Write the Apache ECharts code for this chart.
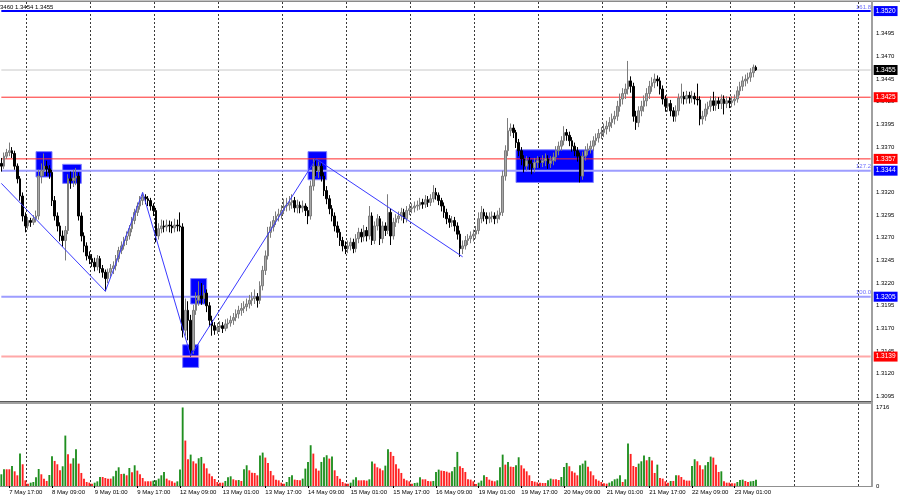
<!DOCTYPE html>
<html><head><meta charset="utf-8">
<script src="https://cdn.jsdelivr.net/npm/echarts@6/dist/echarts.min.js"></script>
<style>html,body{margin:0;padding:0;background:#fff}#c{width:900px;height:500px}</style>
</head><body><div id="c"></div>
<script>
// ---- Trading days and hourly bars (H1) ----
const tradingDays = ['7 May','8 May','9 May','12 May','13 May','14 May','15 May','16 May','19 May','20 May','21 May','22 May','23 May','26 May','27 May'];
const firstHour = 14;

const opens = [
1.3352,1.3349,1.3360,1.3364,1.3366,1.3363,1.3349,1.3335,1.3316,1.3294,
1.3283,1.3289,1.3287,1.3291,1.3294,1.3338,1.3344,1.3349,1.3346,1.3342,
1.3311,1.3294,1.3283,1.3272,1.3267,1.3278,1.3335,1.3333,1.3336,1.3338,
1.3294,1.3272,1.3261,1.3250,1.3247,1.3243,1.3238,1.3247,1.3236,1.3232,
1.3225,1.3232,1.3236,1.3239,1.3247,1.3256,1.3261,1.3267,1.3272,1.3280,
1.3289,1.3298,1.3305,1.3311,1.3315,1.3313,1.3311,1.3305,1.3300,1.3272,
1.3280,1.3283,1.3282,1.3284,1.3283,1.3281,1.3284,1.3283,1.3282,1.3168,
1.3190,1.3179,1.3146,1.3190,1.3201,1.3206,1.3203,1.3209,1.3195,1.3179,
1.3173,1.3168,1.3171,1.3173,1.3170,1.3175,1.3176,1.3179,1.3182,1.3186,
1.3190,1.3192,1.3194,1.3197,1.3201,1.3203,1.3205,1.3201,1.3217,1.3234,
1.3250,1.3276,1.3282,1.3289,1.3294,1.3296,1.3300,1.3305,1.3306,1.3309,
1.3311,1.3303,1.3306,1.3303,1.3305,1.3300,1.3294,1.3327,1.3349,1.3344,
1.3349,1.3338,1.3322,1.3313,1.3302,1.3294,1.3283,1.3276,1.3267,1.3261,
1.3258,1.3261,1.3265,1.3258,1.3269,1.3276,1.3271,1.3278,1.3272,1.3294,
1.3267,1.3283,1.3291,1.3269,1.3283,1.3278,1.3298,1.3272,1.3287,1.3291,
1.3294,1.3298,1.3291,1.3300,1.3302,1.3303,1.3305,1.3306,1.3309,1.3307,
1.3312,1.3309,1.3313,1.3320,1.3317,1.3311,1.3305,1.3298,1.3291,1.3287,
1.3289,1.3283,1.3274,1.3258,1.3261,1.3267,1.3269,1.3272,1.3274,1.3278,
1.3291,1.3298,1.3294,1.3291,1.3293,1.3294,1.3291,1.3295,1.3298,1.3338,
1.3366,1.3388,1.3391,1.3386,1.3375,1.3366,1.3357,1.3349,1.3355,1.3352,
1.3347,1.3353,1.3355,1.3353,1.3355,1.3357,1.3352,1.3355,1.3359,1.3366,
1.3371,1.3377,1.3386,1.3383,1.3377,1.3371,1.3366,1.3360,1.3338,1.3360,
1.3366,1.3368,1.3371,1.3377,1.3380,1.3385,1.3386,1.3390,1.3393,1.3397,
1.3401,1.3404,1.3415,1.3423,1.3429,1.3434,1.3443,1.3437,1.3404,1.3397,
1.3410,1.3415,1.3421,1.3429,1.3437,1.3441,1.3445,1.3443,1.3434,1.3423,
1.3415,1.3418,1.3410,1.3404,1.3410,1.3424,1.3426,1.3423,1.3427,1.3424,
1.3426,1.3423,1.3422,1.3401,1.3404,1.3412,1.3415,1.3421,1.3416,1.3421,
1.3418,1.3423,1.3418,1.3421,1.3419,1.3421,1.3423,1.3432,1.3437,1.3443,
1.3445,1.3447,1.3452,1.3458];

const closes = [
1.3349,1.3360,1.3364,1.3366,1.3363,1.3349,1.3335,1.3316,1.3294,1.3283,
1.3289,1.3287,1.3291,1.3294,1.3338,1.3344,1.3349,1.3346,1.3342,1.3311,
1.3294,1.3283,1.3272,1.3267,1.3278,1.3335,1.3333,1.3336,1.3338,1.3294,
1.3272,1.3261,1.3250,1.3247,1.3243,1.3238,1.3247,1.3236,1.3232,1.3225,
1.3232,1.3236,1.3239,1.3247,1.3256,1.3261,1.3267,1.3272,1.3280,1.3289,
1.3298,1.3305,1.3311,1.3315,1.3313,1.3311,1.3305,1.3300,1.3272,1.3280,
1.3283,1.3282,1.3284,1.3283,1.3281,1.3284,1.3283,1.3282,1.3168,1.3190,
1.3179,1.3146,1.3190,1.3201,1.3206,1.3203,1.3209,1.3195,1.3179,1.3173,
1.3168,1.3171,1.3173,1.3170,1.3175,1.3176,1.3179,1.3182,1.3186,1.3190,
1.3192,1.3194,1.3197,1.3201,1.3203,1.3205,1.3201,1.3217,1.3234,1.3250,
1.3276,1.3282,1.3289,1.3294,1.3296,1.3300,1.3305,1.3306,1.3309,1.3311,
1.3303,1.3306,1.3303,1.3305,1.3300,1.3294,1.3327,1.3349,1.3344,1.3349,
1.3338,1.3322,1.3313,1.3302,1.3294,1.3283,1.3276,1.3267,1.3261,1.3258,
1.3261,1.3265,1.3258,1.3269,1.3276,1.3271,1.3278,1.3272,1.3294,1.3267,
1.3283,1.3291,1.3269,1.3283,1.3278,1.3298,1.3272,1.3287,1.3291,1.3294,
1.3298,1.3291,1.3300,1.3302,1.3303,1.3305,1.3306,1.3309,1.3307,1.3312,
1.3309,1.3313,1.3320,1.3317,1.3311,1.3305,1.3298,1.3291,1.3287,1.3289,
1.3283,1.3274,1.3258,1.3261,1.3267,1.3269,1.3272,1.3274,1.3278,1.3291,
1.3298,1.3294,1.3291,1.3293,1.3294,1.3291,1.3295,1.3298,1.3338,1.3366,
1.3388,1.3391,1.3386,1.3375,1.3366,1.3357,1.3349,1.3355,1.3352,1.3347,
1.3353,1.3355,1.3353,1.3355,1.3357,1.3352,1.3355,1.3359,1.3366,1.3371,
1.3377,1.3386,1.3383,1.3377,1.3371,1.3366,1.3360,1.3338,1.3360,1.3366,
1.3368,1.3371,1.3377,1.3380,1.3385,1.3386,1.3390,1.3393,1.3397,1.3401,
1.3404,1.3415,1.3423,1.3429,1.3434,1.3443,1.3437,1.3404,1.3397,1.3410,
1.3415,1.3421,1.3429,1.3437,1.3441,1.3445,1.3443,1.3434,1.3423,1.3415,
1.3418,1.3410,1.3404,1.3410,1.3424,1.3426,1.3423,1.3427,1.3424,1.3426,
1.3423,1.3422,1.3401,1.3404,1.3412,1.3415,1.3421,1.3416,1.3421,1.3418,
1.3423,1.3418,1.3421,1.3419,1.3421,1.3423,1.3432,1.3437,1.3443,1.3445,
1.3447,1.3452,1.3458,1.3455];

const highs = [
1.3358,1.3364,1.3368,1.3375,1.3370,1.3366,1.3352,1.3338,1.3320,1.3298,
1.3293,1.3292,1.3295,1.3300,1.3345,1.3352,1.3363,1.3355,1.3350,1.3345,
1.3316,1.3298,1.3287,1.3278,1.3283,1.3340,1.3343,1.3345,1.3347,1.3342,
1.3298,1.3276,1.3265,1.3255,1.3252,1.3248,1.3251,1.3250,1.3240,1.3235,
1.3236,1.3241,1.3244,1.3251,1.3260,1.3266,1.3271,1.3277,1.3284,1.3293,
1.3302,1.3309,1.3316,1.3320,1.3318,1.3316,1.3314,1.3308,1.3303,1.3286,
1.3290,1.3289,1.3290,1.3289,1.3288,1.3291,1.3290,1.3298,1.3286,1.3203,
1.3200,1.3185,1.3196,1.3210,1.3222,1.3220,1.3218,1.3213,1.3199,1.3184,
1.3177,1.3176,1.3178,1.3177,1.3180,1.3181,1.3184,1.3187,1.3191,1.3195,
1.3198,1.3200,1.3203,1.3207,1.3210,1.3213,1.3209,1.3222,1.3239,1.3256,
1.3282,1.3288,1.3294,1.3299,1.3302,1.3306,1.3313,1.3314,1.3316,1.3318,
1.3315,1.3312,1.3310,1.3311,1.3308,1.3304,1.3333,1.3357,1.3357,1.3354,
1.3352,1.3342,1.3327,1.3317,1.3306,1.3298,1.3288,1.3280,1.3271,1.3266,
1.3267,1.3270,1.3269,1.3274,1.3281,1.3280,1.3284,1.3282,1.3305,1.3298,
1.3288,1.3296,1.3294,1.3288,1.3287,1.3318,1.3302,1.3292,1.3296,1.3299,
1.3303,1.3302,1.3305,1.3307,1.3308,1.3310,1.3311,1.3314,1.3313,1.3317,
1.3316,1.3318,1.3328,1.3325,1.3320,1.3314,1.3309,1.3302,1.3295,1.3294,
1.3293,1.3287,1.3278,1.3267,1.3272,1.3274,1.3277,1.3279,1.3283,1.3298,
1.3305,1.3302,1.3298,1.3298,1.3299,1.3298,1.3300,1.3303,1.3344,1.3372,
1.3402,1.3396,1.3395,1.3389,1.3379,1.3370,1.3361,1.3360,1.3359,1.3356,
1.3358,1.3360,1.3359,1.3361,1.3363,1.3361,1.3360,1.3364,1.3371,1.3376,
1.3382,1.3393,1.3390,1.3387,1.3381,1.3375,1.3370,1.3364,1.3365,1.3371,
1.3374,1.3377,1.3382,1.3385,1.3390,1.3392,1.3396,1.3399,1.3403,1.3407,
1.3410,1.3421,1.3429,1.3435,1.3440,1.3465,1.3448,1.3441,1.3410,1.3415,
1.3421,1.3427,1.3435,1.3443,1.3447,1.3451,1.3449,1.3447,1.3438,1.3427,
1.3424,1.3422,1.3414,1.3416,1.3429,1.3440,1.3431,1.3432,1.3431,1.3432,
1.3430,1.3440,1.3426,1.3410,1.3418,1.3420,1.3426,1.3431,1.3426,1.3425,
1.3428,1.3427,1.3426,1.3425,1.3426,1.3428,1.3437,1.3442,1.3448,1.3450,
1.3452,1.3457,1.3461,1.3460];

const lows = [
1.3343,1.3346,1.3357,1.3360,1.3358,1.3345,1.3330,1.3311,1.3288,1.3276,
1.3279,1.3282,1.3284,1.3287,1.3290,1.3330,1.3338,1.3338,1.3335,1.3305,
1.3289,1.3277,1.3266,1.3260,1.3245,1.3274,1.3324,1.3326,1.3328,1.3289,
1.3266,1.3254,1.3245,1.3241,1.3238,1.3233,1.3234,1.3231,1.3226,1.3211,
1.3220,1.3227,1.3230,1.3234,1.3243,1.3252,1.3257,1.3262,1.3268,1.3276,
1.3285,1.3294,1.3301,1.3306,1.3307,1.3305,1.3300,1.3294,1.3265,1.3268,
1.3275,1.3276,1.3277,1.3276,1.3275,1.3276,1.3277,1.3277,1.3160,1.3162,
1.3157,1.3139,1.3142,1.3185,1.3195,1.3196,1.3198,1.3188,1.3172,1.3162,
1.3163,1.3164,1.3166,1.3165,1.3167,1.3170,1.3172,1.3174,1.3178,1.3181,
1.3184,1.3187,1.3189,1.3192,1.3195,1.3197,1.3193,1.3197,1.3212,1.3229,
1.3246,1.3270,1.3277,1.3284,1.3288,1.3291,1.3296,1.3299,1.3300,1.3302,
1.3298,1.3297,1.3297,1.3298,1.3294,1.3285,1.3290,1.3322,1.3338,1.3336,
1.3332,1.3316,1.3307,1.3296,1.3288,1.3277,1.3270,1.3261,1.3255,1.3252,
1.3253,1.3256,1.3253,1.3254,1.3264,1.3265,1.3266,1.3266,1.3268,1.3262,
1.3263,1.3278,1.3262,1.3264,1.3272,1.3274,1.3262,1.3268,1.3282,1.3286,
1.3289,1.3286,1.3287,1.3295,1.3297,1.3298,1.3300,1.3301,1.3302,1.3303,
1.3304,1.3305,1.3309,1.3312,1.3306,1.3299,1.3292,1.3285,1.3281,1.3282,
1.3277,1.3268,1.3249,1.3252,1.3257,1.3262,1.3264,1.3266,1.3269,1.3274,
1.3286,1.3288,1.3285,1.3286,1.3287,1.3285,1.3286,1.3290,1.3294,1.3333,
1.3360,1.3382,1.3380,1.3369,1.3360,1.3350,1.3342,1.3344,1.3345,1.3340,
1.3342,1.3347,1.3347,1.3348,1.3349,1.3346,1.3347,1.3350,1.3354,1.3361,
1.3366,1.3372,1.3377,1.3371,1.3365,1.3360,1.3354,1.3331,1.3334,1.3355,
1.3361,1.3363,1.3366,1.3372,1.3375,1.3379,1.3381,1.3384,1.3387,1.3391,
1.3395,1.3399,1.3409,1.3417,1.3423,1.3428,1.3430,1.3398,1.3389,1.3392,
1.3404,1.3409,1.3415,1.3423,1.3431,1.3435,1.3437,1.3428,1.3417,1.3409,
1.3409,1.3404,1.3398,1.3398,1.3405,1.3418,1.3417,1.3418,1.3418,1.3419,
1.3417,1.3416,1.3394,1.3395,1.3399,1.3406,1.3409,1.3410,1.3410,1.3412,
1.3412,1.3406,1.3413,1.3413,1.3414,1.3416,1.3419,1.3427,1.3432,1.3437,
1.3440,1.3442,1.3447,1.3454];

const volumes = [
256,365,365,365,438,321,234,708,475,124,
51,73,88,190,372,256,161,110,241,650,
548,475,343,431,1102,694,489,606,803,489,
285,161,88,73,51,73,102,197,197,175,
161,161,212,336,409,263,270,234,394,299,
453,336,256,175,102,102,102,117,124,161,
234,307,161,124,102,73,102,358,1716,993,
584,686,540,489,606,635,489,387,270,212,
153,88,73,73,110,190,212,146,124,131,
110,365,453,343,292,285,234,664,730,621,
504,329,234,139,124,73,51,88,197,234,
139,131,124,161,380,526,891,708,380,336,
526,628,672,599,642,343,219,161,88,58,
51,73,139,190,124,124,124,117,146,533,
489,409,380,343,445,803,745,657,475,380,
285,161,124,102,51,66,73,190,146,146,
110,102,110,307,358,336,329,314,292,321,
416,745,431,394,307,146,139,102,44,73,
117,234,197,139,117,102,124,409,686,467,
526,423,416,453,628,453,380,321,234,110,
95,80,73,66,66,124,161,146,146,131,
197,416,504,431,321,292,234,453,489,555,
423,321,234,146,117,88,58,51,73,102,
146,161,234,88,146,927,701,438,416,489,
540,664,562,635,555,285,467,175,161,102,
73,110,110,234,234,197,139,117,117,438,
584,540,453,365,453,526,642,621,467,307,
321,102,73,73,58,58,88,131,139,110,
88,102,110,139];

// price axis ticks / levels
const priceTickStart = 1.3095;
const volumeTickMax = 1716;
const levelPrices = [1.3520, 1.3455, 1.3425, 1.3357, 1.3344, 1.3205, 1.3139];
const levelColors = ['#0000ff','#c8c8c8','#ff2a2a','#ff2a2a','#9d9dff','#9d9dff','#ffa8a8'];
const levelWidths = [2, 1, 1, 1, 2, 2, 2];
const levelTagColors = ['#0000ff','#000000','#ff0000','#ff0000','#0000ff','#0000ff','#ff0000'];
const fibPrices   = [1.3520, 1.3344, 1.3205];
const fibTexts    = ['161.8', '127.2', '100.0'];
// zig-zag vertices (bar index, price)
const zigIdx   = [0, 39, 53, 71, 118, 173];
const zigPrice = [1.3330, 1.3211, 1.3320, 1.3140, 1.3357, 1.3249];
// blue zones (bar index range, price range)
const zoneFrom = [13, 23, 71, 68, 115, 193];
const zoneTo   = [19, 30, 77, 74, 122, 222];
const zoneHigh = [1.3365, 1.3351, 1.3225, 1.3152, 1.3365, 1.3367];
const zoneLow  = [1.3337, 1.3330, 1.3197, 1.3127, 1.3334, 1.3331];
const headerText = '1.3460 1.3454 1.3455';

// ---- build categories ----
const SLOTS = 327;
const cats = [];
(function(){
  let d = 0, h = firstHour;
  while (cats.length < SLOTS) {
    cats.push(tradingDays[d] + ' ' + String(h).padStart(2,'0') + ':00');
    h++; if (h > 23) { h = 0; d++; }
  }
})();
const nBars = closes.length;
const candleData = closes.map((c,i)=>[opens[i], c, lows[i], highs[i]]);
const FONT = 'Liberation Sans';

function helper(extra){
  return Object.assign({type:'line', xAxisIndex:0, yAxisIndex:0, data:[], z:1, clip:false, silent:true}, extra);
}
const series = [];
// zones
series.push(helper({markArea:{silent:true, itemStyle:{color:'#0000ff', borderColor:'#8080ff', borderWidth:1},
  data: zoneFrom.map((f,k)=>[{coord:[cats[f], zoneHigh[k]]},{coord:[cats[zoneTo[k]], zoneLow[k]]}])}}));
// zigzag
const zigLines = [];
for (let k=0;k<zigIdx.length-1;k++){
  zigLines.push([{coord:[cats[zigIdx[k]], zigPrice[k]]},{coord:[cats[zigIdx[k+1]], zigPrice[k+1]]}]);
}
series.push(helper({markLine:{silent:true, precision:5, symbol:['none','none'], animation:false,
  lineStyle:{color:'#3a3aff', width:1, type:'solid'}, label:{show:false}, data:zigLines}}));
// horizontal levels: line series across the whole axis with a price tag at the end
levelPrices.forEach((p,k)=>{
  series.push({type:'line', xAxisIndex:0, yAxisIndex:0, z:2, silent:true, clip:false,
    showSymbol:false, symbol:'none',
    data:[[cats[0], p], [cats[SLOTS-1], p]],
    lineStyle:{color:levelColors[k], width:levelWidths[k], type:'solid'},
    itemStyle:{color:levelColors[k]},
    endLabel:{show:true, distance:3, formatter:p.toFixed(4), color:'#fff',
      backgroundColor:levelTagColors[k], padding:[2,2,1,2], fontSize:6.5, fontFamily:FONT}});
});
// fibonacci level texts
fibPrices.forEach((p,k)=>{
  series.push(helper({z:2, markLine:{silent:true, precision:5, symbol:['none','none'], animation:false,
    lineStyle:{color:'rgba(0,0,0,0)', width:1, type:'solid'},
    label:{show:true, position:'insideEndTop', distance:1, formatter:fibTexts[k], color:'#6f6fff', fontSize:6, fontFamily:FONT},
    data:[{yAxis:p}]}}));
});
series.push({type:'candlestick', xAxisIndex:0, yAxisIndex:0, data:candleData, z:3, barWidth:2,
  itemStyle:{color:'#a8a8a8', color0:'#000000', borderColor:'#7c7c7c', borderColor0:'#000000', borderWidth:1}});
series.push({type:'bar', xAxisIndex:1, yAxisIndex:1, data:volumes, barWidth:'70%',
  itemStyle:{color:(p)=> (p.dataIndex===0 || volumes[p.dataIndex] > volumes[p.dataIndex-1]) ? '#1f8f1f' : '#ff2020'}});

const splitIv = (idx)=> idx % 24 === 10;
const labelIv = (idx)=> idx % 16 === 3 && idx < nBars;
const gridDash = {color:'#3a3a3a', type:[2,2], width:1};

const chart = echarts.init(document.getElementById('c'), null, {renderer:'canvas'});
chart.setOption({
  animation:false,
  backgroundColor:'#ffffff',
  grid:[{left:0, top:2, width:872, height:399},{left:0, top:404, width:872, height:82}],
  xAxis:[
    {type:'category', gridIndex:0, data:cats, boundaryGap:true,
     axisLine:{show:false}, axisTick:{show:false}, axisLabel:{show:false},
     splitLine:{show:true, interval:splitIv, lineStyle:gridDash}},
    {type:'category', gridIndex:1, data:cats, boundaryGap:true,
     axisLine:{show:true, lineStyle:{color:'#909090', width:1}},
     axisTick:{show:true, alignWithLabel:true, interval:labelIv, length:2, lineStyle:{color:'#000'}},
     axisLabel:{show:true, interval:labelIv, align:'left', margin:3, fontSize:6, color:'#000', fontFamily:FONT},
     splitLine:{show:true, interval:splitIv, lineStyle:gridDash}}
  ],
  yAxis:[
    {type:'value', gridIndex:0, position:'right', min:1.3090, max:1.3530, interval:0.0005, scale:true,
     axisLine:{show:true, lineStyle:{color:'#a0a0a0', width:2}}, axisTick:{show:false}, splitLine:{show:false},
     axisLabel:{show:true, margin:4, fontSize:6, color:'#000', fontFamily:FONT, showMinLabel:false, showMaxLabel:false,
       formatter:(v)=>{ const k = Math.round((v-priceTickStart)/0.0005); return (k>=0 && k%5===0 && Math.abs(v-priceTickStart-k*0.0005)<1e-7) ? v.toFixed(4) : ''; }}},
    {type:'value', gridIndex:1, position:'right', min:0, max:1792, interval:volumeTickMax,
     axisLine:{show:true, lineStyle:{color:'#a0a0a0', width:2}}, axisTick:{show:false}, splitLine:{show:false},
     axisLabel:{show:true, margin:4, fontSize:6, color:'#000', fontFamily:FONT,
       formatter:(v)=> (v===0||v===volumeTickMax) ? String(v) : ''}}
  ],
  series: series,
  graphic:[
    {type:'rect', shape:{x:0, y:0.5, width:900, height:1.5}, style:{fill:'#8a8a8a'}, silent:true},
    {type:'rect', shape:{x:0, y:401, width:873, height:3}, style:{fill:'#a0a0a0'}, silent:true},
    {type:'rect', shape:{x:0, y:401, width:873, height:1}, style:{fill:'#5a5a5a'}, silent:true},
    {type:'text', x:-5, y:4, style:{text:headerText, fontSize:6, fill:'#000', fontFamily:FONT}, silent:true}
  ]
});
</script>
</body></html>
